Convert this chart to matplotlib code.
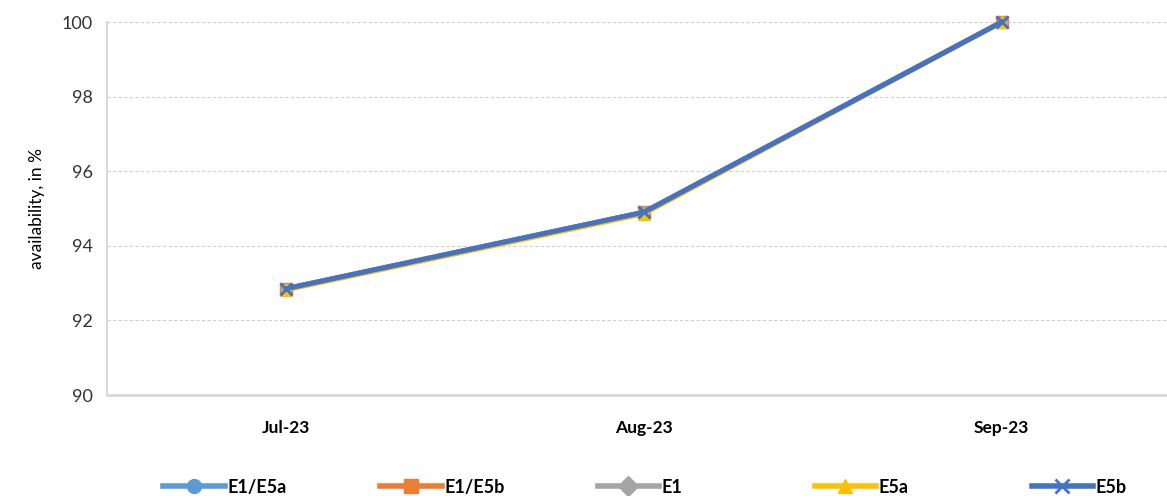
import matplotlib.pyplot as plt
from matplotlib.lines import Line2D

months = ["Jul-23", "Aug-23", "Sep-23"]
e1_e5a = [92.85, 94.9, 100.0]
e1_e5b = [92.85, 94.9, 100.0]
e1 = [92.85, 94.9, 100.0]
e5a = [92.82, 94.86, 100.0]
e5b = [92.85, 94.9, 100.0]

series = [
    ("E1/E5a", e1_e5a, "#5B9BD5", "o", 8),
    ("E1/E5b", e1_e5b, "#ED7D31", "s", 8),
    ("E1", e1, "#A5A5A5", "D", 6),
    ("E5a", e5a, "#FFC000", "^", 8),
    ("E5b", e5b, "#4472C4", "x", 8),
]

plt.rcParams["font.family"] = ["Lato", "DejaVu Sans"]

fig = plt.figure(figsize=(11.67, 4.96), dpi=100)
ax = fig.add_axes([0.0917, 0.2036, 0.92, 0.752])

x = list(range(len(months)))
for name, vals, col, mk, ms in series:
    ax.plot(x, vals, color=col, lw=3.6, marker=mk, ms=ms, mew=2 if mk == "x" else 1,
            mfc=col, mec=col, label=name, clip_on=False)

ax.set_xlim(-0.5, 2.5)
ax.set_ylim(90, 100)
ax.set_yticks([90, 92, 94, 96, 98, 100])
ax.set_xticks(x)
ax.set_xticklabels(months, fontweight="bold", fontsize=12.5)
ax.tick_params(axis="y", labelsize=13, length=0, pad=10, colors="#333333")
ax.tick_params(axis="x", length=0, pad=18)
ax.yaxis.grid(True, linestyle=(0, (3, 2)), color="#D0D0D0", lw=0.8)
ax.set_axisbelow(True)
for s in ["top", "right"]:
    ax.spines[s].set_visible(False)
ax.spines["left"].set_color("#D9D9D9")
ax.spines["bottom"].set_color("#D9D9D9")
ax.spines["left"].set_linewidth(1.5)
ax.spines["bottom"].set_linewidth(2)
ax.set_ylabel("availability, in %", fontsize=12.5, labelpad=12)

# one legend per entry so the entries sit evenly spaced like the original
legend_x = [0.140, 0.326, 0.512, 0.698, 0.884]
for (name, _, col, mk, ms), lx in zip(series, legend_x):
    h = Line2D([], [], color=col, lw=4, marker=mk, ms=10, mew=2 if mk == "x" else 1,
               mfc=col, mec=col)
    fig.legend([h], [name], loc="center left", bbox_to_anchor=(lx, 0.018),
               frameon=False, handlelength=3.4, handletextpad=0.15,
               borderpad=0, borderaxespad=0,
               prop={"weight": "bold", "size": 13})

fig.savefig("out.png", dpi=100)
